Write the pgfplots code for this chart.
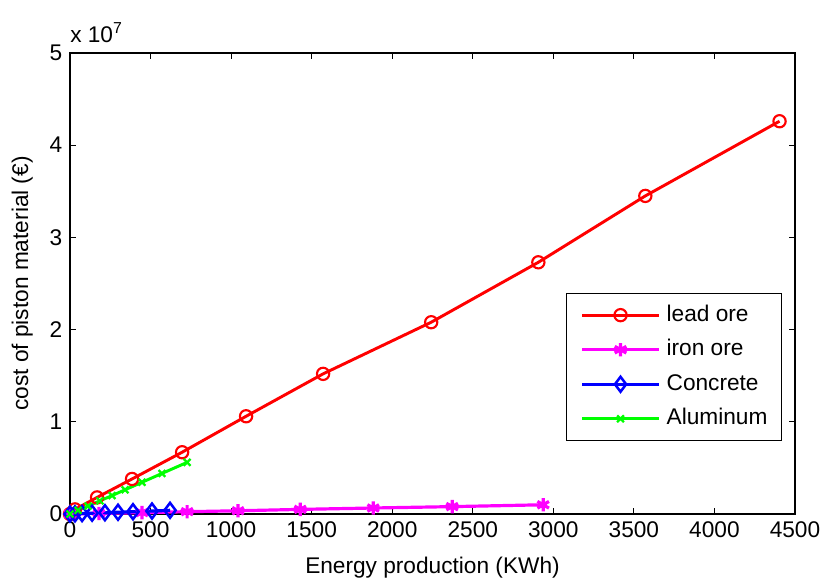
\documentclass[border=0pt]{standalone}
\usepackage{fontspec}
\setmainfont{Liberation Sans}
\usepackage{pgfplots}
\pgfplotsset{compat=1.18}

\definecolor{mred}{RGB}{255,0,0}
\definecolor{mmagenta}{RGB}{255,0,255}
\definecolor{mblue}{RGB}{0,0,255}
\definecolor{mgreen}{RGB}{0,255,0}

\begin{document}
\fontsize{17pt}{20pt}\selectfont
\begin{tikzpicture}
\begin{axis}[
  name=ax,
  at={(0,0)}, anchor=south west,
  scale only axis,
  width=543.75pt, height=345.75pt,
  xmin=0, xmax=4500, ymin=0, ymax=5e7,
  xtick={0,500,...,4500},
  ytick={0,1e7,2e7,3e7,4e7,5e7},
  yticklabels={0,1,2,3,4,5},
  scaled x ticks=false, scaled y ticks=false,
  /pgf/number format/assume math mode=true,
  /pgf/number format/set thousands separator={},
  tick align=inside,
  major tick length=4.5pt,
  tick style={black, line width=0.9pt},
  axis line style={black, line width=1.1pt},
  clip=false,
  xlabel={Energy production (KWh)},
  ylabel={cost of piston material (€)},
  xlabel style={at={(axis description cs:0.5,-0.117)}, anchor=center},
  ylabel style={at={(axis description cs:-0.066,0.5)}, anchor=center},
  legend cell align=left,
  legend style={
    at={(0.982,0.158)}, anchor=south east,
    draw=black, line width=0.8pt, fill=white,
    inner xsep=10.5pt, inner ysep=8.4pt,
    row sep=9.9pt, column sep=4.5pt,
    nodes={inner sep=0pt, text height=12.5pt, text depth=3.5pt},
  },
  legend image code/.code={%
    \draw[mark repeat=2,mark phase=2,#1]
      plot coordinates {(0pt,0pt) (28.875pt,0pt) (57.75pt,0pt)};},
]

% lead ore
\addplot[color=mred, line width=2.2pt, mark=o, mark size=4.6pt,
  mark options={line width=1.6pt}]
coordinates {
  (0,0) (31,5.0e5) (168,1.8e6) (385,3.8e6) (696,6.7e6) (1093,1.06e7)
  (1571,1.52e7) (2242,2.08e7) (2907,2.73e7) (3571,3.45e7) (4404,4.26e7)
};
\addlegendentry{lead ore}

% iron ore
\addplot[color=mmagenta, line width=2.4pt, mark=asterisk, mark size=5pt,
  mark options={line width=2.4pt}]
coordinates {
  (0,0) (180,6e4) (447,1.5e5) (727,2.5e5) (1043,3.5e5) (1429,5.0e5)
  (1882,6.5e5) (2372,8.0e5) (2937,1.0e6)
};
\addlegendentry{iron ore}

% concrete
\addplot[color=mblue, line width=2.4pt, mark=diamond, mark size=5.6pt,
  mark options={line width=1.9pt}]
coordinates {
  (0,0) (31,2e4) (75,5e4) (137,9e4) (217,1.4e5) (298,1.9e5)
  (391,2.5e5) (509,3.2e5) (621,4.0e5)
};
\addlegendentry{Concrete}

% aluminum
\addplot[color=mgreen, line width=2.2pt, mark=x, mark size=3.6pt,
  mark options={line width=1.7pt}]
coordinates {
  (0,0) (50,4.0e5) (112,8.6e5) (186,1.43e6) (261,2.0e6) (342,2.63e6)
  (447,3.44e6) (571,4.4e6) (727,5.6e6)
};
\addlegendentry{Aluminum}

\node[anchor=base west, inner sep=0pt] at ([yshift=8.25pt]rel axis cs:0,1)
  {x 10\textsuperscript{7}};
\end{axis}
\pgfresetboundingbox
\useasboundingbox ([shift={(-52.5pt,-51.75pt)}]ax.south west)
  rectangle ([shift={(19.5pt,39.75pt)}]ax.north east);
\end{tikzpicture}
\end{document}
